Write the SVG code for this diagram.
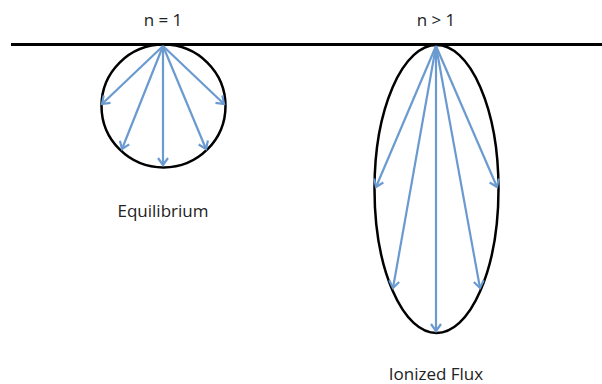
<svg xmlns="http://www.w3.org/2000/svg" width="602" height="384" viewBox="0 0 602 384">
<defs>
<marker id="ah" markerWidth="12" markerHeight="12" refX="9" refY="6" orient="auto" markerUnits="userSpaceOnUse">
<path d="M2,1 L9,6 L2,11" fill="none" stroke="#6a9ad0" stroke-width="2.2"/>
</marker>
<style>
.lbl{font-family:"Open Sans","Liberation Sans",sans-serif;font-size:17px;fill:#222;text-anchor:middle}
.shape{fill:none;stroke:#000;stroke-width:2.5}
.arr{stroke:#6a9ad0;stroke-width:2.2;fill:none;marker-end:url(#ah)}
</style>
</defs>
<rect width="602" height="384" fill="#fff"/>
<g id="surface"><line x1="11" y1="44.5" x2="602" y2="44.5" stroke="#000" stroke-width="3"/></g>
<g id="equilibrium">
<ellipse class="shape" cx="163.5" cy="106" rx="62" ry="61.5"/>
<text class="lbl" x="163" y="26">n = 1</text>
<text class="lbl" x="163" y="217">Equilibrium</text>
</g>
<g id="ionized">
<ellipse class="shape" cx="436.5" cy="189" rx="62" ry="144"/>
<text class="lbl" x="436" y="26">n &gt; 1</text>
<text class="lbl" x="436" y="380">Ionized Flux</text>
</g>
<g id="connectors">
<line class="arr" x1="163" y1="46" x2="102" y2="104"/>
<line class="arr" x1="163" y1="46" x2="122" y2="149"/>
<line class="arr" x1="163" y1="46" x2="163" y2="165"/>
<line class="arr" x1="163" y1="46" x2="206" y2="149"/>
<line class="arr" x1="163" y1="46" x2="224" y2="104"/>
<line class="arr" x1="436" y1="46" x2="376" y2="187"/>
<line class="arr" x1="436" y1="46" x2="393" y2="288"/>
<line class="arr" x1="436" y1="46" x2="436" y2="331"/>
<line class="arr" x1="436" y1="46" x2="480" y2="288"/>
<line class="arr" x1="436" y1="46" x2="497" y2="187"/>
</g>
</svg>
